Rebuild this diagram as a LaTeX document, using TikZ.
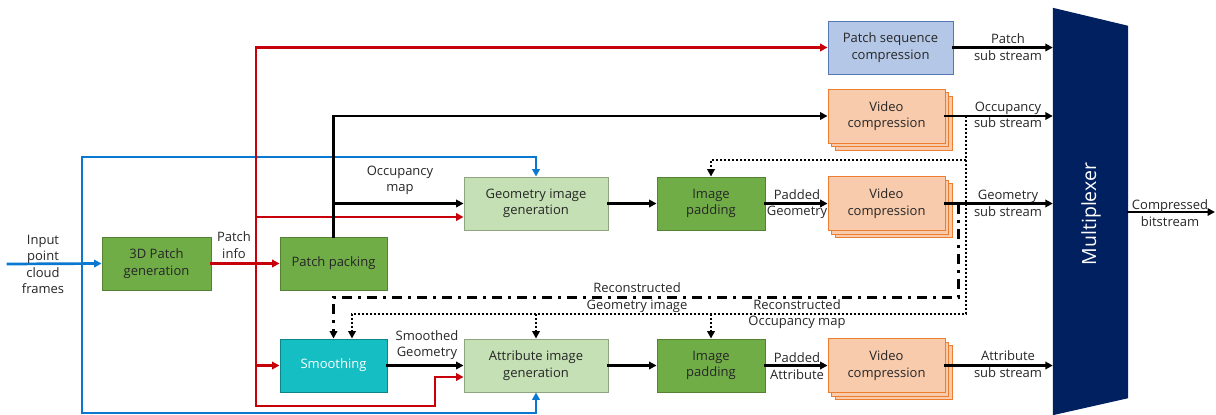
\documentclass[tikz,border=0pt]{standalone}
\usepackage{fontspec}
\setmainfont{Open Sans}
\usetikzlibrary{arrows.meta,calc}
\definecolor{dgreen}{HTML}{70AD47}
\definecolor{dgreenline}{HTML}{548235}
\definecolor{lgreen}{HTML}{C5E0B4}
\definecolor{lgreenline}{HTML}{8FA57F}
\definecolor{vorange}{HTML}{F8CBAD}
\definecolor{vorangeline}{HTML}{ED7D31}
\definecolor{pblue}{HTML}{B4C7E7}
\definecolor{pblueline}{HTML}{5576B3}
\definecolor{cyanbox}{HTML}{14BEC3}
\definecolor{navy}{HTML}{002060}
\definecolor{redline}{HTML}{C8000A}
\definecolor{blueline}{HTML}{0A78D0}
\definecolor{txt}{HTML}{262626}

% stacked video-compression box: two shadow copies behind the named front box
\newcommand\vidbox[3]{%
  \foreach \d in {7,3.5}
    \path[fill=vorange,draw=vorangeline,line width=0.9pt]
      (#2-58.5+\d,#3-27+\d) rectangle ++(117,54);
  \node[vbox] (#1) at (#2,#3) {Video\\compression};}

\begin{document}
\begin{tikzpicture}[x=1pt,y=-1pt,
  every node/.style={font=\fontsize{13}{16.5}\selectfont, text=txt, inner sep=0pt, align=center},
  box/.style={draw, line width=0.9pt, minimum height=53},
  dbox/.style={box, fill=dgreen, draw=dgreenline},
  lbox/.style={box, fill=lgreen, draw=lgreenline, minimum width=144},
  vbox/.style={box, fill=vorange, draw=vorangeline, minimum width=117, minimum height=54},
  tip/.style={-{Triangle[length=7.5pt,width=7.5pt]}},
  conn/.style={line width=2.7pt, line cap=rect, tip},
  rd/.style={conn, draw=redline},
  bl/.style={conn, draw=blueline},
  bk/.style={conn, draw=black},
  dt/.style={line width=2.6pt, dash pattern=on 2.2pt off 1.8pt, tip},
  dd/.style={line width=3pt, dash pattern=on 10pt off 6pt on 3pt off 6pt, tip},
]
\useasboundingbox (0,0) rectangle (1216,415);

% processing blocks
\node[dbox, minimum width=109] (gen3d) at (156.5,263.5) {3D Patch\\generation};
\node[dbox, minimum width=107] (pack) at (333.5,263.5) {Patch packing};
\node[box, fill=cyanbox, draw=cyanbox!70!black, minimum width=107, text=white] (smooth) at (333.5,365.5) {Smoothing};
\node[lbox] (geoimg) at (536,203.5) {Geometry image\\generation};
\node[lbox] (attimg) at (536,365.5) {Attribute image\\generation};
\node[dbox, minimum width=108] (padg) at (711,203.5) {Image\\padding};
\node[dbox, minimum width=108] (pada) at (711,365.5) {Image\\padding};
\node[box, fill=pblue, draw=pblueline, minimum width=125] (pseq) at (890.5,47.5) {Patch sequence\\compression};
\vidbox{vidocc}{886.5}{116}
\vidbox{vidgeo}{886.5}{203.5}
\vidbox{vidatt}{886.5}{365.5}

% multiplexer
\node[minimum width=75, minimum height=407] (mux) at (1090.5,211.5) {};
\fill[navy] (mux.north west) -- ($(mux.north east)+(0,18)$) -- ($(mux.south east)+(0,-17)$) -- (mux.south west) -- cycle;
\node[rotate=90, text=white, font=\fontsize{19.5}{21}\selectfont] (muxlbl) at (1091,214) {Multiplexer};

% junction points
\coordinate (in) at (8,264);
\coordinate (bj) at (82,264);
\coordinate (bt) at (82,157);
\coordinate (bb) at (82,413);
\coordinate (rt) at (256,47.5);
\coordinate (rb) at (256,406);
\coordinate (r1) at (256,217);
\coordinate (r2) at (256,365.5);
\coordinate (rb2) at (435,406);
\coordinate (r3) at (435,377);
\coordinate (kt) at (333.5,116);
\coordinate (k1) at (333.5,203.5);
\coordinate (d0) at (966,116);
\coordinate (d1) at (966,160);
\coordinate (d2) at (966,314);
\coordinate (ds) at (352,314);
\coordinate (g0) at (958,203.5);
\coordinate (g1) at (958,297);
\coordinate (mo) at (1128,212);
\coordinate (outend) at (1215,212);

% input point cloud (blue)
\draw[bl] (in) -- (gen3d.west);
\draw[bl] (bj) -- (bt) -| (geoimg.north);
\draw[bl] (bj) -- (bb) -| (attimg.south);

% patch info (red)
\draw[rd] (gen3d.east) -- (pack.west);
\draw[rd] (rb) -- (rt) -- (pseq.west);
\draw[rd] (r1) -- (r1 -| geoimg.west);
\draw[rd] (r2) -- (smooth.west);
\draw[rd] (rb) -- (rb2) -- (r3) -- (r3 -| attimg.west);

% occupancy map and image flow (black)
\draw[bk] (pack.north) -- (kt) -- (vidocc.west);
\draw[bk] (k1) -- (geoimg.west);
\draw[bk] (geoimg) -- (padg);
\draw[bk] (padg) -- (vidgeo);
\draw[bk] (smooth) -- (attimg);
\draw[bk] (attimg) -- (pada);
\draw[bk] (pada) -- (vidatt);

% sub streams into the multiplexer
\draw[bk] (pseq.east) -- (pseq.east -| mux.west);
\draw[bk] (vidocc.east) -- (vidocc.east -| mux.west);
\draw[bk] (vidgeo.east) -- (vidgeo.east -| mux.west);
\draw[bk] (vidatt.east) -- (vidatt.east -| mux.west);
\draw[bk] (mo) -- (outend);

% reconstructed occupancy map (dotted)
\draw[dt] (d0) -- (d2) -- (ds) -- (ds |- smooth.north);
\draw[dt] (d1) -- (d1 -| padg.north) -- (padg.north);
\draw[dt] (attimg.north |- d2) -- (attimg.north);
\draw[dt] (pada.north |- d2) -- (pada.north);

% reconstructed geometry image (dash-dot)
\draw[dd] (g0) -- (g1) -- (g1 -| smooth.north) -- (smooth.north);

% labels
\node (lin) at (43,264.5) {Input\\point\\cloud\\frames};
\node (lpi) at (234,245) {Patch\\info};
\node (locc) at (400,180.5) {Occupancy\\map};
\node (lpg) at (797,204) {Padded\\Geometry};
\node (lpa) at (797,366) {Padded\\Attribute};
\node (lsg) at (427,345) {Smoothed\\Geometry};
\node (lrg) at (637,297.5) {Reconstructed\\Geometry image};
\node (lro) at (797,314) {Reconstructed\\Occupancy map};
\node (lps) at (1008,47) {Patch\\sub stream};
\node (los) at (1008,115) {Occupancy\\sub stream};
\node (lgs) at (1008,203.5) {Geometry\\sub stream};
\node (las) at (1008,364) {Attribute\\sub stream};
\node (lcb) at (1170,213) {Compressed\\bitstream};
\end{tikzpicture}
\end{document}
